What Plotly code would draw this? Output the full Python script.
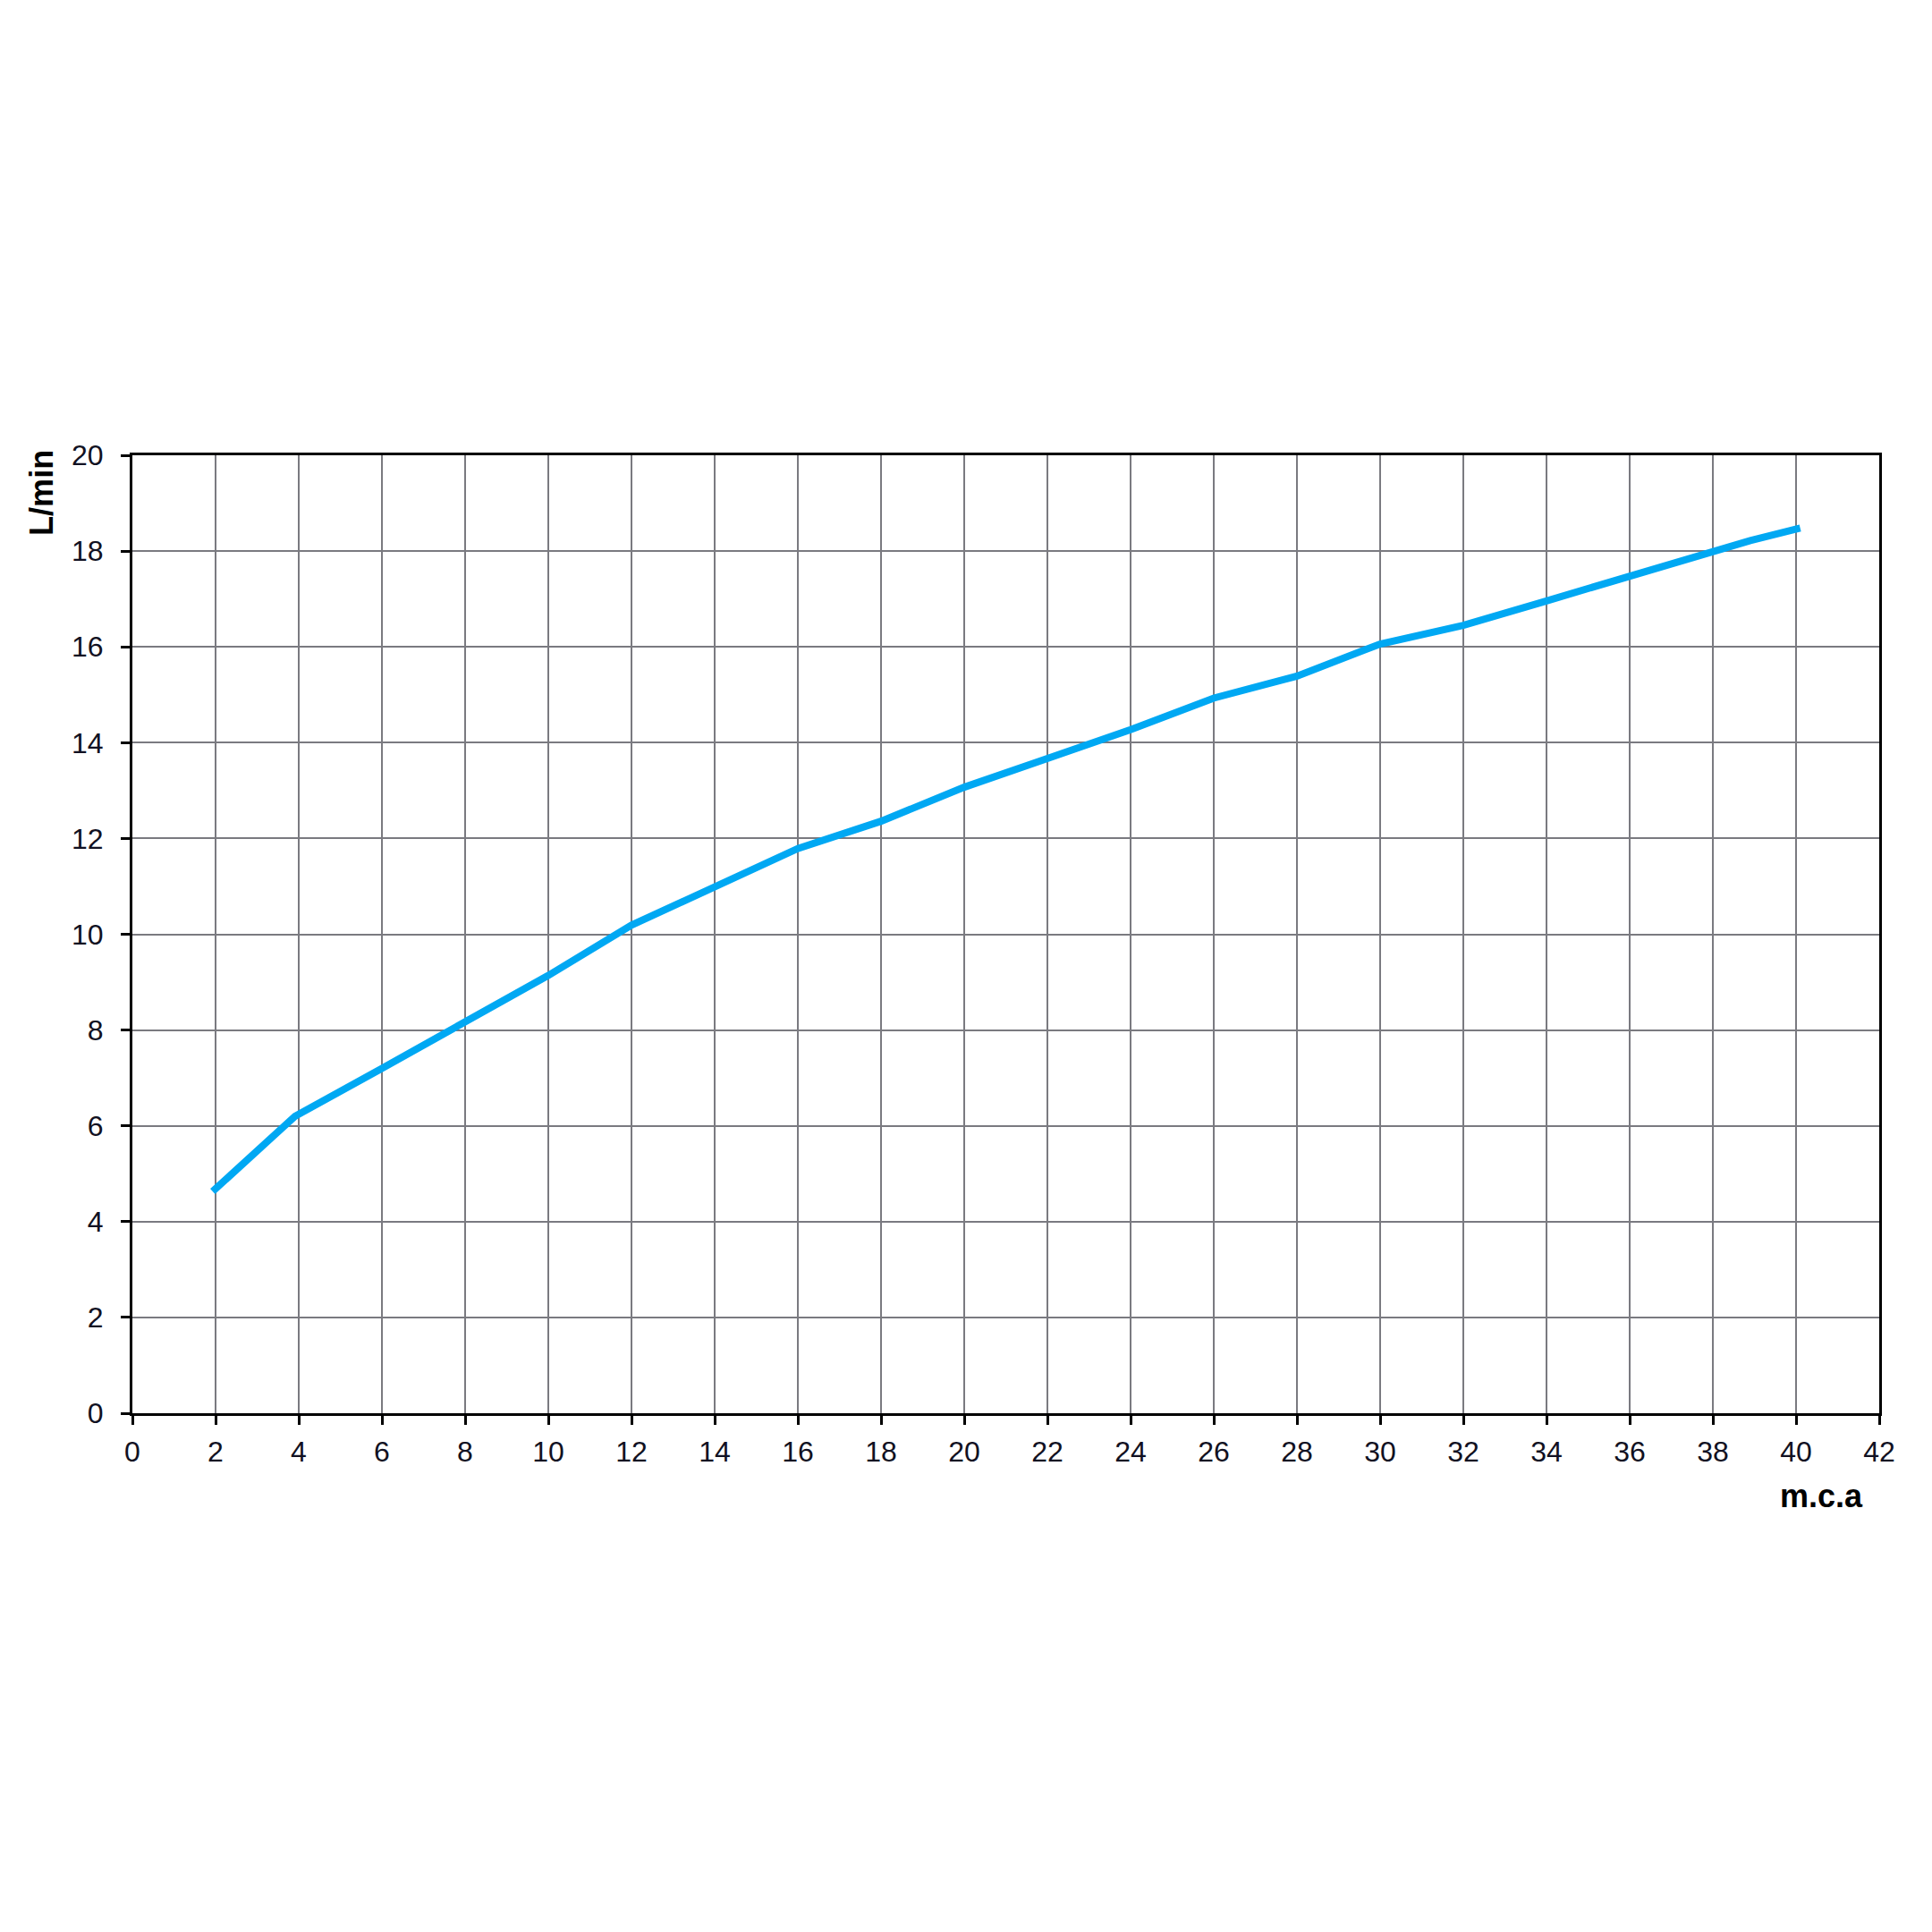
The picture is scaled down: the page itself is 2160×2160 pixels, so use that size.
import plotly.graph_objects as go

pressure_mca = [1.93, 3.91, 6.0, 8.0, 10.0, 12.0, 14.0, 16.0, 18.0, 20.0, 22.0, 24.0,
                26.0, 28.0, 30.0, 32.0, 34.0, 36.0, 38.0, 38.9, 40.1]
flow_lmin = [4.63, 6.2, 7.2, 8.17, 9.14, 10.19, 10.97, 11.79, 12.36, 13.07, 13.67, 14.27,
             14.93, 15.39, 16.06, 16.45, 16.96, 17.48, 17.99, 18.22, 18.48]

x_ticks = list(range(0, 43, 2))
y_ticks = list(range(0, 21, 2))

fig = go.Figure()
fig.add_trace(go.Scatter(
    x=pressure_mca, y=flow_lmin, mode="lines",
    line=dict(color="#00a8f3", width=8, shape="linear"),
    showlegend=False, hoverinfo="skip",
))

font_family = "Liberation Sans, Arial, sans-serif"
fig.update_layout(
    width=2160, height=2160,
    paper_bgcolor="white", plot_bgcolor="white",
    margin=dict(l=140, r=67, t=501, b=588, autoexpand=False),
    font=dict(family=font_family, size=32, color="#111122"),
)
fig.update_xaxes(
    range=[0, 42], tickvals=x_ticks, ticktext=[str(v) for v in x_ticks],
    showgrid=True, gridcolor="#7a7a80", gridwidth=1.5,
    showline=True, linecolor="black", linewidth=3, mirror=True,
    ticks="outside", ticklen=10, tickwidth=3, tickcolor="black",
    ticklabelstandoff=3, zeroline=False,
    tickfont=dict(size=32, family=font_family, color="#111122"),
)
fig.update_yaxes(
    range=[0, 20], tickvals=y_ticks, ticktext=[str(v) for v in y_ticks],
    showgrid=True, gridcolor="#7a7a80", gridwidth=1.5,
    showline=True, linecolor="black", linewidth=3, mirror=True,
    ticks="outside", ticklen=10, tickwidth=3, tickcolor="black",
    ticklabelstandoff=13, zeroline=False,
    tickfont=dict(size=32, family=font_family, color="#111122"),
)
fig.add_annotation(
    text="<b>L/min</b>", textangle=-90, showarrow=False,
    xref="paper", yref="paper", x=-0.052, y=1.008,
    xanchor="center", yanchor="top",
    font=dict(size=36, family=font_family, color="black"),
)
fig.add_annotation(
    text="<b>m.c.a</b>", showarrow=False,
    xref="paper", yref="paper", x=0.967, y=-0.086,
    xanchor="center", yanchor="middle",
    font=dict(size=36, family=font_family, color="black"),
)

fig.write_html("out.html")
